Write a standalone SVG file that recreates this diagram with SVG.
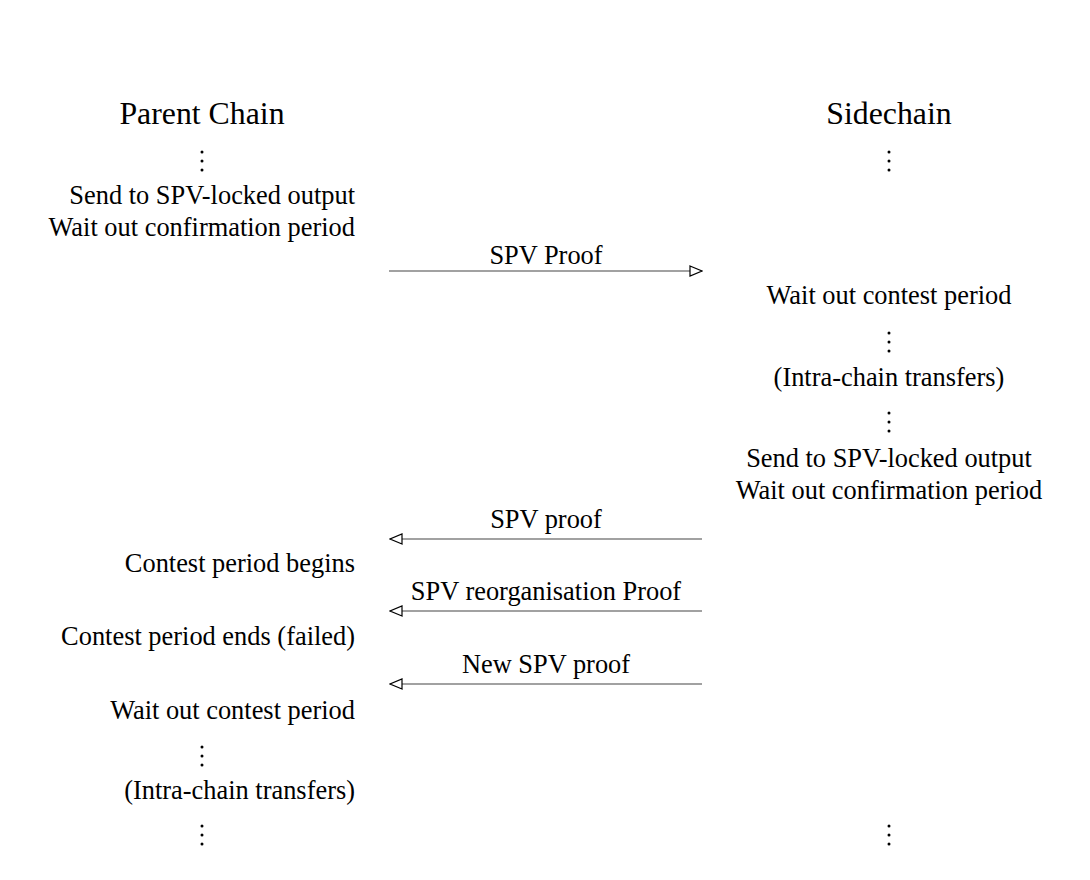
<svg xmlns="http://www.w3.org/2000/svg" width="1090" height="880" viewBox="0 0 1090 880">
<defs>
<style>
text{font-family:"Liberation Serif","Times New Roman",serif;fill:#000}
.t{font-size:31.8px;text-anchor:middle}
.l{font-size:26.4px;text-anchor:end}
.r{font-size:26.4px;text-anchor:middle}
.m{font-size:26.4px;text-anchor:middle}
.d circle{fill:#000}
.c{stroke:#444;stroke-width:1.2;fill:none}
</style>
<marker id="ah" viewBox="0 0 14 12" refX="13" refY="6" markerWidth="14" markerHeight="12" markerUnits="userSpaceOnUse" orient="auto">
<path d="M1,1 L13,6 L1,11 Z" fill="#fff" stroke="#000" stroke-width="1.2"/>
</marker>
</defs>
<rect width="1090" height="880" fill="#fff"/>
<g id="parent-chain">
<text class="t" x="202" y="124">Parent Chain</text>
<g class="d"><circle cx="202" cy="152" r="1.5"/><circle cx="202" cy="161" r="1.5"/><circle cx="202" cy="170" r="1.5"/></g>
<text class="l" x="355" y="204">Send to SPV-locked output</text>
<text class="l" x="355" y="236">Wait out confirmation period</text>
<text class="l" x="355" y="572">Contest period begins</text>
<text class="l" x="355" y="645">Contest period ends (failed)</text>
<text class="l" x="355" y="719">Wait out contest period</text>
<g class="d"><circle cx="202" cy="747" r="1.5"/><circle cx="202" cy="756" r="1.5"/><circle cx="202" cy="765" r="1.5"/></g>
<text class="l" x="355" y="799">(Intra-chain transfers)</text>
<g class="d"><circle cx="202" cy="826" r="1.5"/><circle cx="202" cy="835" r="1.5"/><circle cx="202" cy="844" r="1.5"/></g>
</g>
<g id="sidechain">
<text class="t" x="889" y="124">Sidechain</text>
<g class="d"><circle cx="889" cy="152" r="1.5"/><circle cx="889" cy="161" r="1.5"/><circle cx="889" cy="170" r="1.5"/></g>
<text class="r" x="889" y="304">Wait out contest period</text>
<g class="d"><circle cx="889" cy="333" r="1.5"/><circle cx="889" cy="342" r="1.5"/><circle cx="889" cy="351" r="1.5"/></g>
<text class="r" x="889" y="386">(Intra-chain transfers)</text>
<g class="d"><circle cx="889" cy="413" r="1.5"/><circle cx="889" cy="422" r="1.5"/><circle cx="889" cy="431" r="1.5"/></g>
<text class="r" x="889" y="467">Send to SPV-locked output</text>
<text class="r" x="889" y="499">Wait out confirmation period</text>
<g class="d"><circle cx="889" cy="826" r="1.5"/><circle cx="889" cy="835" r="1.5"/><circle cx="889" cy="844" r="1.5"/></g>
</g>
<g id="connectors">
<line class="c" x1="389" y1="271" x2="702" y2="271" marker-end="url(#ah)"/>
<text class="m" x="546" y="264">SPV Proof</text>
<line class="c" x1="702" y1="539" x2="390" y2="539" marker-end="url(#ah)"/>
<text class="m" x="546" y="528">SPV proof</text>
<line class="c" x1="702" y1="611" x2="390" y2="611" marker-end="url(#ah)"/>
<text class="m" x="546" y="600">SPV reorganisation Proof</text>
<line class="c" x1="702" y1="684" x2="390" y2="684" marker-end="url(#ah)"/>
<text class="m" x="546" y="673">New SPV proof</text>
</g>
</svg>
